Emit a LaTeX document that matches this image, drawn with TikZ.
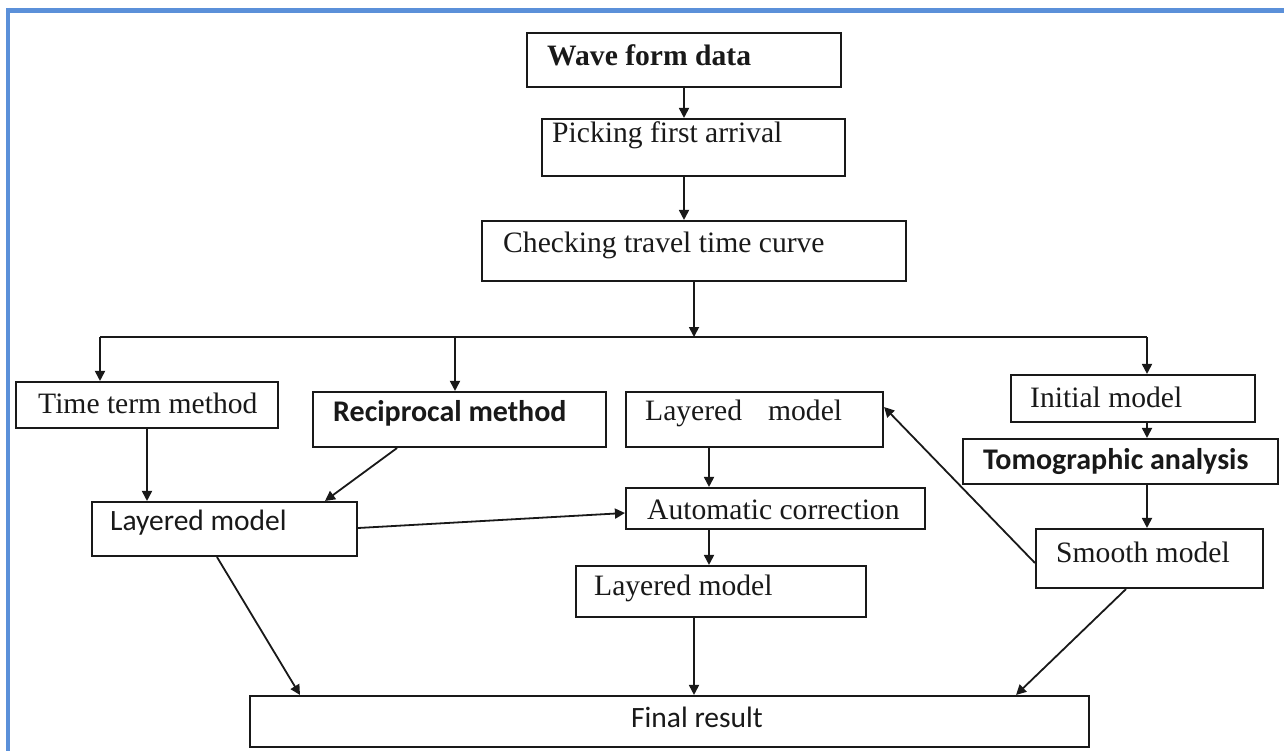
\documentclass[tikz,border=0pt]{standalone}
\usepackage{fontspec}
\setmainfont{Liberation Serif}
\newfontfamily\calib{Carlito}
\usetikzlibrary{arrows.meta}
\definecolor{frameblue}{RGB}{91,144,217}
\definecolor{ink}{RGB}{25,25,25}
\begin{document}
\begin{tikzpicture}[x=1pt,y=-1pt,
  box/.style={draw=ink, line width=2.1pt, inner sep=0pt, rectangle},
  txt/.style={anchor=west, inner sep=0pt, text=ink, font=\fontsize{29.6}{34}\selectfont},
  btxt/.style={txt, font=\fontsize{29.6}{34}\selectfont\bfseries},
  stxt/.style={txt, font=\calib\fontsize{29.5}{34}\selectfont},
  sbtxt/.style={txt, font=\calib\fontsize{30}{34}\selectfont\bfseries},
  arr/.style={draw=ink, line width=1.8pt, -{Triangle[length=10pt,width=10pt]}},
  link/.style={draw=ink, line width=1.8pt}]

% page and frame
\fill[white] (0,0) rectangle (1284,751);
\useasboundingbox (0,0) rectangle (1284,751);
\draw[frameblue, line width=4.5pt] (6,10.3) -- (1284,10.3);
\draw[frameblue, line width=4pt] (8,8) -- (8,751);

% boxes
\node[box, minimum width=314pt, minimum height=54pt] (wave)   at (684,60) {};
\node[box, minimum width=303pt, minimum height=57pt] (pick)   at (693.5,147.5) {};
\node[box, minimum width=424pt, minimum height=60pt] (check)  at (694,251) {};
\node[box, minimum width=262pt, minimum height=46pt] (time)   at (147,405) {};
\node[box, minimum width=293pt, minimum height=55pt] (recip)  at (459.5,419.5) {};
\node[box, minimum width=257pt, minimum height=55pt] (laymid) at (754.5,419.5) {};
\node[box, minimum width=244pt, minimum height=47pt] (init)   at (1133,398.5) {};
\node[box, minimum width=315pt, minimum height=45pt] (tomo)   at (1120.5,461.5) {};
\node[box, minimum width=299pt, minimum height=41pt] (auto)   at (775.5,508.5) {};
\node[box, minimum width=227pt, minimum height=59pt] (smooth) at (1149.5,558.5) {};
\node[box, minimum width=290pt, minimum height=51pt] (laybot) at (721,591.5) {};
\node[box, minimum width=265pt, minimum height=54pt] (layleft) at (224.5,529) {};
\node[box, minimum width=839pt, minimum height=51pt] (final)  at (669.5,721.5) {};

% labels
\node[btxt]  (waveT)    at (547,55)  {Wave form data};
\node[txt]   (pickT)    at (552,135) {Picking first arrival};
\node[txt]   (checkT)   at (503,245) {Checking travel time curve};
\node[txt]   (timeT)    at (38,403)  {Time term method};
\node[sbtxt] (recipT)   at (333,413) {Reciprocal method};
\node[txt]   (laymidT)  at (645,413) {Layered\hspace{26pt}model};
\node[txt]   (initT)    at (1030,397) {Initial model};
\node[sbtxt] (tomoT)    at (983,462) {Tomographic analysis};
\node[txt]   (autoT)    at (647,510) {Automatic correction};
\node[txt]   (smoothT)  at (1056,552) {Smooth model};
\node[txt]   (laybotT)  at (594,588) {Layered model};
\node[stxt]  (layleftT) at (110,523) {Layered model};
\node[stxt, anchor=center] (finalT) at (697,717) {Final result};

% branching bus
\coordinate (busL) at (100,337);
\coordinate (busR) at (1147,337);
\coordinate (colM) at (709,0);

% connectors
\draw[arr] (wave.south) -- (wave.south |- pick.north);
\draw[arr] (pick.south -| wave.south) -- (check.north -| wave.south);
\draw[arr] (check.south) -- (check.south |- busL);
\draw[link] (busL) -- (busR);
\draw[arr] (busL) -- (busL |- time.north);
\draw[arr] ([xshift=-4.5pt]recip.north |- busL) -- ([xshift=-4.5pt]recip.north);
\draw[arr] (busR) -- (busR |- init.north);
\draw[arr] (busR |- init.south) -- (busR |- tomo.north);
\draw[arr] (busR |- tomo.south) -- (busR |- smooth.north);
\draw[arr] (colM |- laymid.south) -- (colM |- auto.north);
\draw[arr] (colM |- auto.south) -- (colM |- laybot.north);
\draw[arr] (laybot.south -| check.south) -- (final.north -| check.south);
\draw[arr] (time.south) -- (time.south |- layleft.north);
\draw[arr] ([xshift=-62.5pt]recip.south) -- ([xshift=100.5pt]layleft.north);
\draw[arr] ([yshift=1pt]layleft.east) -- ([yshift=-4.5pt]auto.west);
\draw[arr] ([xshift=-7.5pt]layleft.south) -- ([xshift=-369.5pt]final.north);
\draw[arr] ([xshift=-23.5pt]smooth.south) -- ([xshift=-74pt]final.north east);
\draw[arr] ([yshift=-4.5pt]smooth.west) -- ([yshift=12.5pt]laymid.east);
\end{tikzpicture}
\end{document}
